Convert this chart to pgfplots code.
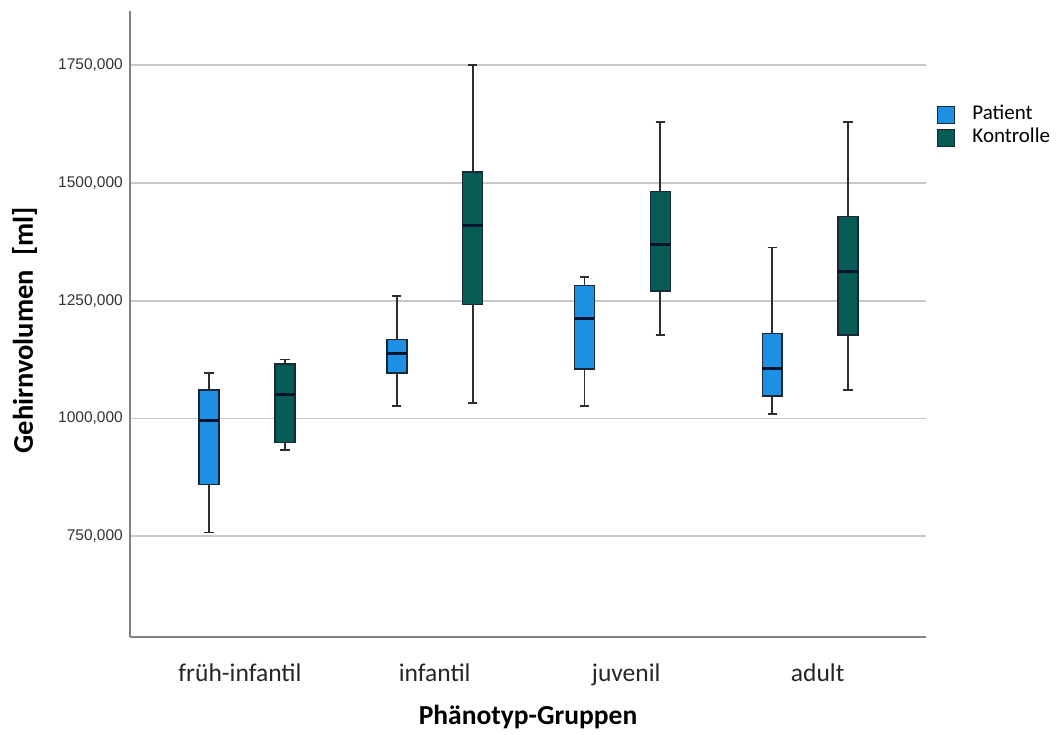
\documentclass[border=0pt]{standalone}
\usepackage{fontspec}
\setmainfont{Carlito}
\newfontfamily\arial{Liberation Sans}
\usepackage{pgfplots}
\pgfplotsset{compat=1.18}
\usepgfplotslibrary{statistics}
\definecolor{pat}{RGB}{30,144,228}
\definecolor{kon}{RGB}{8,92,86}
\definecolor{gridc}{RGB}{200,200,200}
\definecolor{axc}{RGB}{130,130,130}
\definecolor{edge}{RGB}{25,40,55}
\definecolor{medc}{RGB}{5,20,45}
\definecolor{whc}{RGB}{45,45,45}
\pgfplotsset{
  patstyle/.style={fill=pat, draw=edge, line width=1.6pt, solid},
  konstyle/.style={fill=kon, draw=edge, line width=1.6pt, solid},
}
\begin{document}
\begin{tikzpicture}
\begin{axis}[
  name=ax, at={(0,0)}, anchor=south west,
  scale only axis, width=796pt, height=626pt,
  xmin=-0.623, xmax=3.617, ymin=536, ymax=1865,
  axis lines=left, axis line style={-, draw=axc, line width=2pt},
  ytick={750,1000,1250,1500,1750},
  yticklabels={{750,000},{1000,000},{1250,000},{1500,000},{1750,000}},
  yticklabel style={font=\arial\fontsize{15.5}{18}\selectfont, text=black!80, anchor=east, inner sep=0pt, xshift=-7pt},
  ymajorgrids, grid style={gridc, line width=1.7pt},
  major tick length=0pt,
  xtick={-0.037,1,2.02,3.04},
  xticklabels={früh-infantil,infantil,juvenil,adult},
  xticklabel style={font=\fontsize{25.5}{30}\selectfont, text=black!85, anchor=base, inner sep=0pt, yshift=-44pt},
  xlabel={Phänotyp-Gruppen},
  xlabel style={font=\bfseries\fontsize{27.5}{32}\selectfont, at={(axis description cs:0.5,0)}, anchor=base, inner sep=0pt, yshift=-87pt},
  ylabel={Gehirnvolumen\hspace{0.5em}[ml]},
  ylabel style={font=\bfseries\fontsize{28.5}{33}\selectfont, at={(axis description cs:-0.1219,0.49)}, anchor=base, inner sep=0pt},
  boxplot/draw direction=y,
  boxplot/box extend=0.106,
  boxplot/whisker extend=0.05,
  boxplot/every whisker/.style={draw=whc, line width=1.8pt},
  boxplot/every median/.style={draw=medc, line width=3pt},
  legend style={at={(axis description cs:1.013,0.853)}, anchor=north west, draw=none, fill=none,
    font=\fontsize{21}{24}\selectfont, inner sep=0pt,
    nodes={inner sep=1.5pt, text height=15pt, text depth=5pt},
    /tikz/every odd column/.append style={column sep=16pt}},
  legend cell align=left,
  legend image code/.code={\draw[#1, line width=1.4pt] (0pt,-8.5pt) rectangle (17pt,8.5pt);},
]
% Patient
\addplot[forget plot, patstyle, boxplot prepared={draw position=-0.202, lower whisker=758, lower quartile=860, median=995, upper quartile=1061, upper whisker=1097}] coordinates {};
\addplot[forget plot, patstyle, boxplot prepared={draw position=0.798, lower whisker=1027, lower quartile=1097, median=1138, upper quartile=1168, upper whisker=1260}] coordinates {};
\addplot[forget plot, patstyle, boxplot prepared={draw position=1.798, lower whisker=1026, lower quartile=1105, median=1212, upper quartile=1282, upper whisker=1300}] coordinates {};
\addplot[forget plot, patstyle, boxplot prepared={draw position=2.798, lower whisker=1010, lower quartile=1047, median=1105, upper quartile=1180, upper whisker=1363}] coordinates {};
% Kontrolle
\addplot[forget plot, konstyle, boxplot prepared={draw position=0.202, lower whisker=933, lower quartile=949, median=1051, upper quartile=1115, upper whisker=1125}] coordinates {};
\addplot[forget plot, konstyle, boxplot prepared={draw position=1.202, lower whisker=1032, lower quartile=1242, median=1409, upper quartile=1523, upper whisker=1750}] coordinates {};
\addplot[forget plot, konstyle, boxplot prepared={draw position=2.202, lower whisker=1177, lower quartile=1271, median=1370, upper quartile=1482, upper whisker=1629}] coordinates {};
\addplot[forget plot, konstyle, boxplot prepared={draw position=3.202, lower whisker=1061, lower quartile=1177, median=1313, upper quartile=1429, upper whisker=1629}] coordinates {};
\addlegendimage{fill=pat, draw=edge}
\addlegendentry{Patient}
\addlegendimage{fill=kon, draw=edge}
\addlegendentry{Kontrolle}
\end{axis}
\path ([shift={(-130pt,-98pt)}]ax.south west) rectangle ([shift={(926pt,637pt)}]ax.south west);
\end{tikzpicture}
\end{document}
